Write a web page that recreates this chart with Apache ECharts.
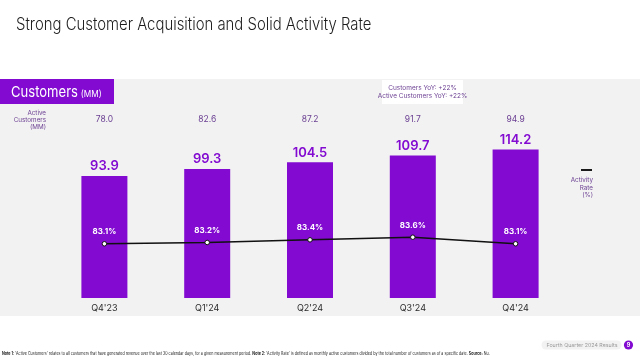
<!DOCTYPE html>
<html>
<head>
<meta charset="utf-8">
<script src="https://cdn.jsdelivr.net/npm/echarts@6/dist/echarts.min.js"></script>
<style>
html,body{margin:0;padding:0;background:#fff;}
#chart{width:640px;height:357px;}
</style>
</head>
<body>
<div id="chart"></div>
<script>
const categories = ["Q4'23", "Q1'24", "Q2'24", "Q3'24", "Q4'24"];
const customers = [93.9, 99.3, 104.5, 109.7, 114.2];
const activeCustomers = ["78.0", "82.6", "87.2", "91.7", "94.9"];
const activityRate = [83.1, 83.2, 83.4, 83.6, 83.1];

const PURPLE = '#820ad1';
const MUTED = '#6b3f92';
const FONT = 'Inter, "Open Sans", sans-serif';

const chart = echarts.init(document.getElementById('chart'), null, {renderer: 'canvas'});

const footnote = "{b|Note 1:} 'Active Customers' relates to all customers that have generated revenue over the last 30 calendar days, for a given measurement period. {b|Note 2:} 'Activity Rate' is defined as monthly active customers divided by the total number of customers as of a specific date. {b|Source:} Nu.";

chart.setOption({
  animation: false,
  backgroundColor: '#ffffff',
  graphic: [
    {type: 'rect', z: -10, shape: {x: 0, y: 79, width: 640, height: 237}, style: {fill: '#f2f2f2'}},
    {type: 'text', x: 16, y: 16, scaleX: 0.875, style: {text: 'Strong Customer Acquisition and Solid Activity Rate', verticalAlign: 'top', font: '300 17px ' + FONT, fill: '#1c1c1c'}},
    {type: 'rect', shape: {x: 0, y: 79, width: 114, height: 25}, style: {fill: PURPLE}},
    {type: 'text', x: 11, y: 92, scaleX: 0.87, style: {
      text: '{a|Customers} {m|(MM)}', verticalAlign: 'middle',
      rich: {a: {fontSize: 15, fontFamily: FONT, fill: '#fff', fontWeight: 400}, m: {fontSize: 9.5, fontFamily: FONT, fill: '#fff', verticalAlign: 'bottom', padding: [3,0,0,0]}}
    }},
    {type: 'rect', shape: {x: 382, y: 80, width: 81, height: 24}, style: {fill: '#ffffff'}},
    {type: 'text', x: 422.5, y: 92, style: {text: 'Customers YoY: +22%\nActive Customers YoY: +22%', align: 'center', verticalAlign: 'middle', font: '6.5px ' + FONT, fill: MUTED, lineHeight: 8.5}},
    {type: 'text', x: 46, y: 120, style: {text: 'Active\nCustomers\n(MM)', align: 'right', verticalAlign: 'middle', font: '6.3px ' + FONT, fill: MUTED, lineHeight: 7.3}},
    {type: 'line', shape: {x1: 581, y1: 170, x2: 592, y2: 170}, style: {stroke: '#1a1a1a', lineWidth: 2}},
    {type: 'text', x: 593, y: 188, style: {text: 'Activity\nRate\n(%)', align: 'right', verticalAlign: 'middle', font: '6.3px ' + FONT, fill: MUTED, lineHeight: 7.5}},
    {type: 'rect', shape: {x: 541.5, y: 340.5, width: 80, height: 9, r: 4.5}, style: {fill: '#f2f2f2'}},
    {type: 'text', x: 582, y: 345, style: {text: 'Fourth Quarter 2024 Results', align: 'center', verticalAlign: 'middle', font: '5.3px ' + FONT, fill: '#9a9a9a'}},
    {type: 'circle', shape: {cx: 628.5, cy: 345, r: 4.6}, style: {fill: PURPLE}},
    {type: 'text', x: 628.5, y: 345.3, style: {text: '9', align: 'center', verticalAlign: 'middle', font: 'bold 5.5px ' + FONT, fill: '#fff'}},
    {type: 'text', x: 2, y: 354, scaleX: 0.875, style: {text: footnote, verticalAlign: 'middle', font: '4.2px ' + FONT, fill: '#222', rich: {b: {fontWeight: 'bold', fontSize: 4.2, fontFamily: FONT, fill: '#222'}}}}
  ],
  grid: {left: 53, right: 73, top: 142, bottom: 59, containLabel: false},
  xAxis: [
    {type: 'category', data: categories, position: 'bottom',
     axisLine: {show: false}, axisTick: {show: false},
     axisLabel: {color: '#2a2a2a', fontSize: 9, fontFamily: FONT, margin: 6}},
    {type: 'category', data: activeCustomers, position: 'top',
     axisLine: {show: false}, axisTick: {show: false},
     axisLabel: {color: MUTED, fontSize: 8.5, fontFamily: FONT, margin: 18}}
  ],
  yAxis: [
    {type: 'value', min: 0, max: 120, show: false, splitLine: {show: false}},
    {type: 'value', min: 79, max: 90.8, show: false, splitLine: {show: false}}
  ],
  series: [
    {type: 'bar', data: customers, xAxisIndex: 0, yAxisIndex: 0, barWidth: 46,
     itemStyle: {color: PURPLE},
     label: {show: true, position: 'top', distance: 3, color: PURPLE, fontSize: 13, fontWeight: 600, fontFamily: FONT, formatter: p => p.value.toFixed(1)}},
    {type: 'line', data: activityRate, xAxisIndex: 0, yAxisIndex: 1,
     lineStyle: {color: '#111', width: 1.5},
     symbol: 'circle', symbolSize: 4.5,
     itemStyle: {color: '#ffffff', borderColor: '#111', borderWidth: 1},
     label: {show: true, position: 'top', distance: 5, color: '#ffffff', fontSize: 8, fontWeight: 'bold', fontFamily: FONT, formatter: p => p.value.toFixed(1) + '%'},
     z: 5}
  ]
});
</script>
</body>
</html>
